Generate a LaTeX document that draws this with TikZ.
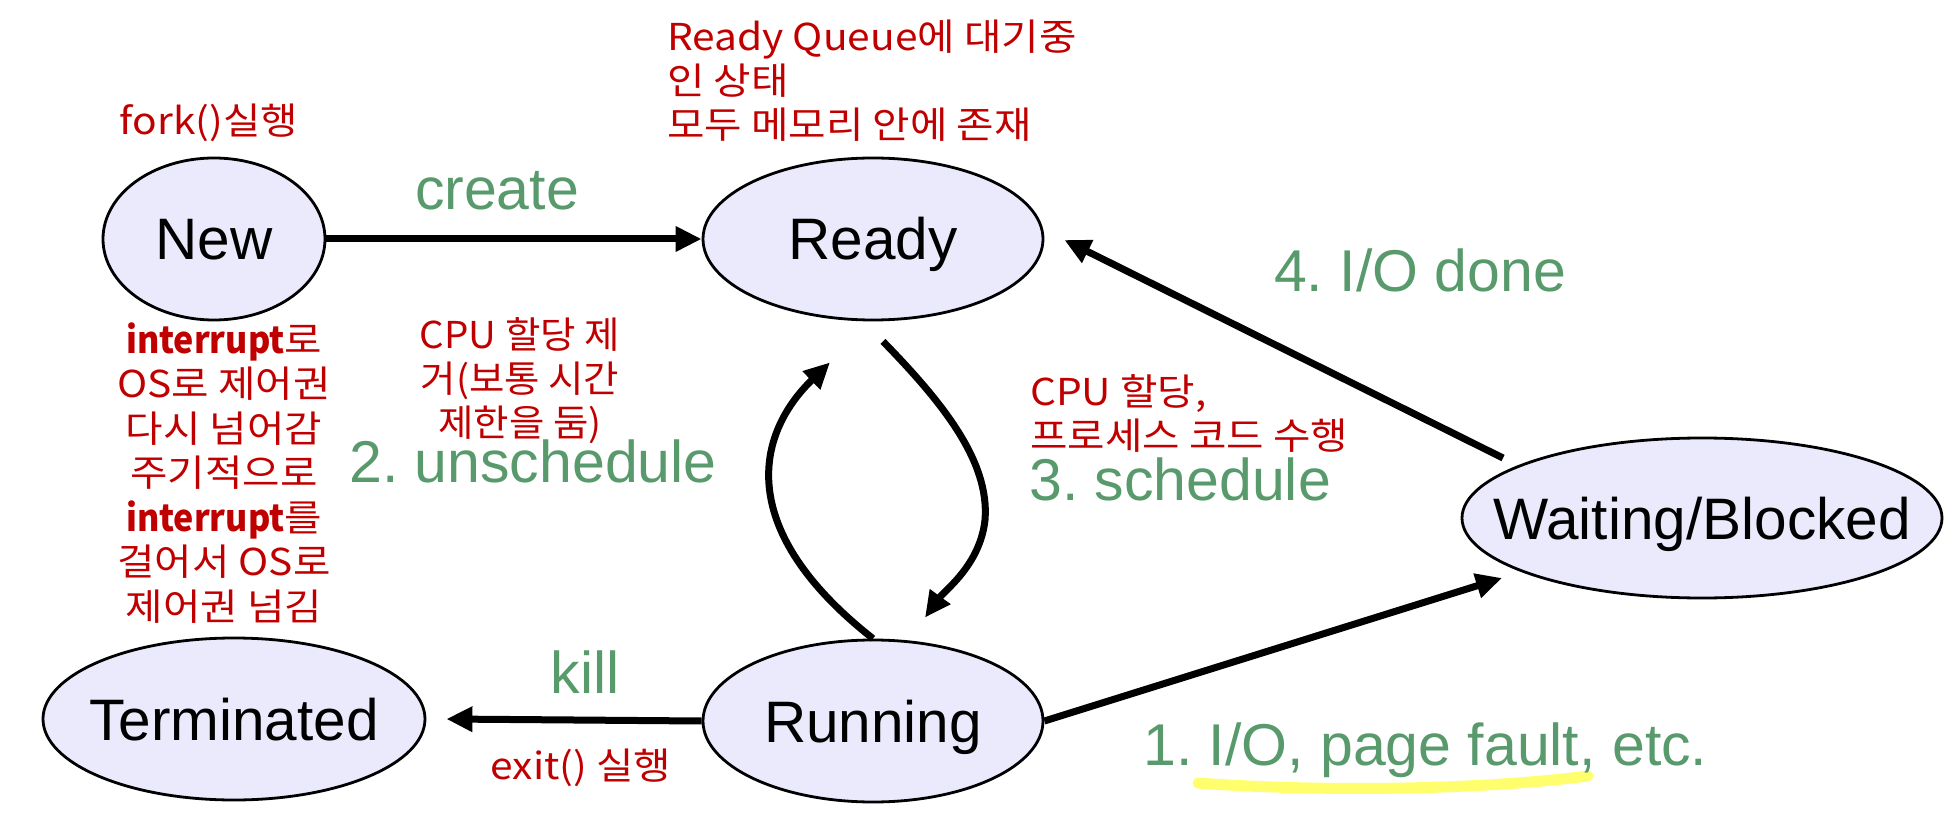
\documentclass[tikz,border=0pt]{standalone}
\usepackage{fontspec}
\setmainfont{Liberation Sans}
\newfontfamily\kr{Noto Sans CJK KR}[FakeStretch=1.1]
\newfontfamily\krm{Noto Sans CJK KR}[FakeStretch=1.04]
\newfontfamily\krn{Noto Sans CJK KR}[FakeStretch=0.92]
\usetikzlibrary{shapes.geometric,arrows.meta,calc}
\definecolor{stfill}{RGB}{234,234,252}
\definecolor{lblgreen}{RGB}{88,154,108}
\definecolor{notered}{RGB}{192,0,0}
\definecolor{hilite}{RGB}{255,255,110}
\newcommand{\intr}{{\krn\bfseries interrupt}}
\begin{document}
\frenchspacing
\begin{tikzpicture}[x=1pt,y=-1pt,
  state/.style={ellipse, draw=black, line width=2.8pt, fill=stfill, inner sep=0pt,
    text height=42pt, text depth=0pt, font=\fontsize{58.5}{60}\selectfont},
  arr/.style={line width=7pt, -{Triangle[length=26pt,width=24pt]}},
  glbl/.style={text=lblgreen, font=\fontsize{59}{60}\selectfont, inner sep=0pt},
  note/.style={text=notered, font=\kr\fontsize{37}{44}\selectfont, inner sep=0pt},
  hl/.style={draw=hilite, line width=11pt, line cap=round}]
\useasboundingbox (0,0) rectangle (1955,818);

% states
\node[state, minimum width=222pt, minimum height=162pt] (N)  at (214,239) {\makebox[0pt]{New}};
\node[state, minimum width=340pt, minimum height=162pt] (Rd) at (873,239) {\makebox[0pt]{Ready}};
\node[state, minimum width=340pt, minimum height=162pt] (Ru) at (873,721) {\makebox[0pt]{Running}};
\node[state, minimum width=382pt, minimum height=162pt] (T)  at (234,719) {\makebox[0pt]{Terminated}};
\node[state, minimum width=480pt, minimum height=160pt] (W)  at (1702,518) {\makebox[0pt]{Waiting/Blocked}};

% connectors
\draw[arr] (N.east) -- (Rd.west);
\draw[arr] (Ru.west) -- ($(T.east)+(20,0)$);
\draw[arr] (Ru.east) -- ($(W.center)+(-200,60)$);
\draw[arr] ($(W.center)+(-199,-60)$) -- ($(Rd.east)+(20,1)$);
\draw[arr] (Ru.north) .. controls (735,530) and (755,435) .. ($(Rd.south)+(-43,41)$);
\draw[arr] ($(Rd.south)+(10,20)$) .. controls (940,400) and (990,460) .. (985,520)
   .. controls (980,565) and (945,590) .. ($(Ru.north)+(52,-21)$);

% highlight under label 1
\path[hl] (1198,783) .. controls (1320,792) and (1480,790) .. (1588,776);

% green labels
\node[glbl, anchor=base] (lcreate) at (497,210) {create};
\node[glbl, anchor=base] (lkill) at (585,693) {kill};
\node[glbl, anchor=base] (lunsch) at (533,482) {2. unschedule};
\node[glbl, anchor=base west] (lsch) at (1029,500) {3. schedule};
\node[glbl, anchor=base] (ldone) at (1420,292) {4. I/O done};
\node[glbl, anchor=base west] (lio) at (1143,765) {1. I/O, page fault, etc.};

% red notes (anchor = baseline of the last line)
\node[note, anchor=base] (nfork) at (209,135) {fork()실행};
\node[note, anchor=base west, align=left] (nready) at (667,139)
  {Ready Queue에 대기중\\인 상태\\모두 메모리 안에 존재};
\node[note, anchor=base, align=center, font=\kr\fontsize{37}{44.5}\selectfont] (nintr) at (224,620)
  {\intr 로\\OS로 제어권\\다시 넘어감\\주기적으로\\\intr 를\\걸어서 OS로\\제어권 넘김};
\node[note, anchor=base, align=center, font=\krm\fontsize{37}{44}\selectfont] (nunsch) at (520,436)
  {CPU 할당 제\\거(보통 시간\\제한을 둠)};
\node[note, anchor=base west, align=left] (nsch) at (1030,449)
  {CPU 할당,\\프로세스 코드 수행};
\node[note, anchor=base] (nexit) at (581,779) {exit() 실행};
\end{tikzpicture}
\end{document}
